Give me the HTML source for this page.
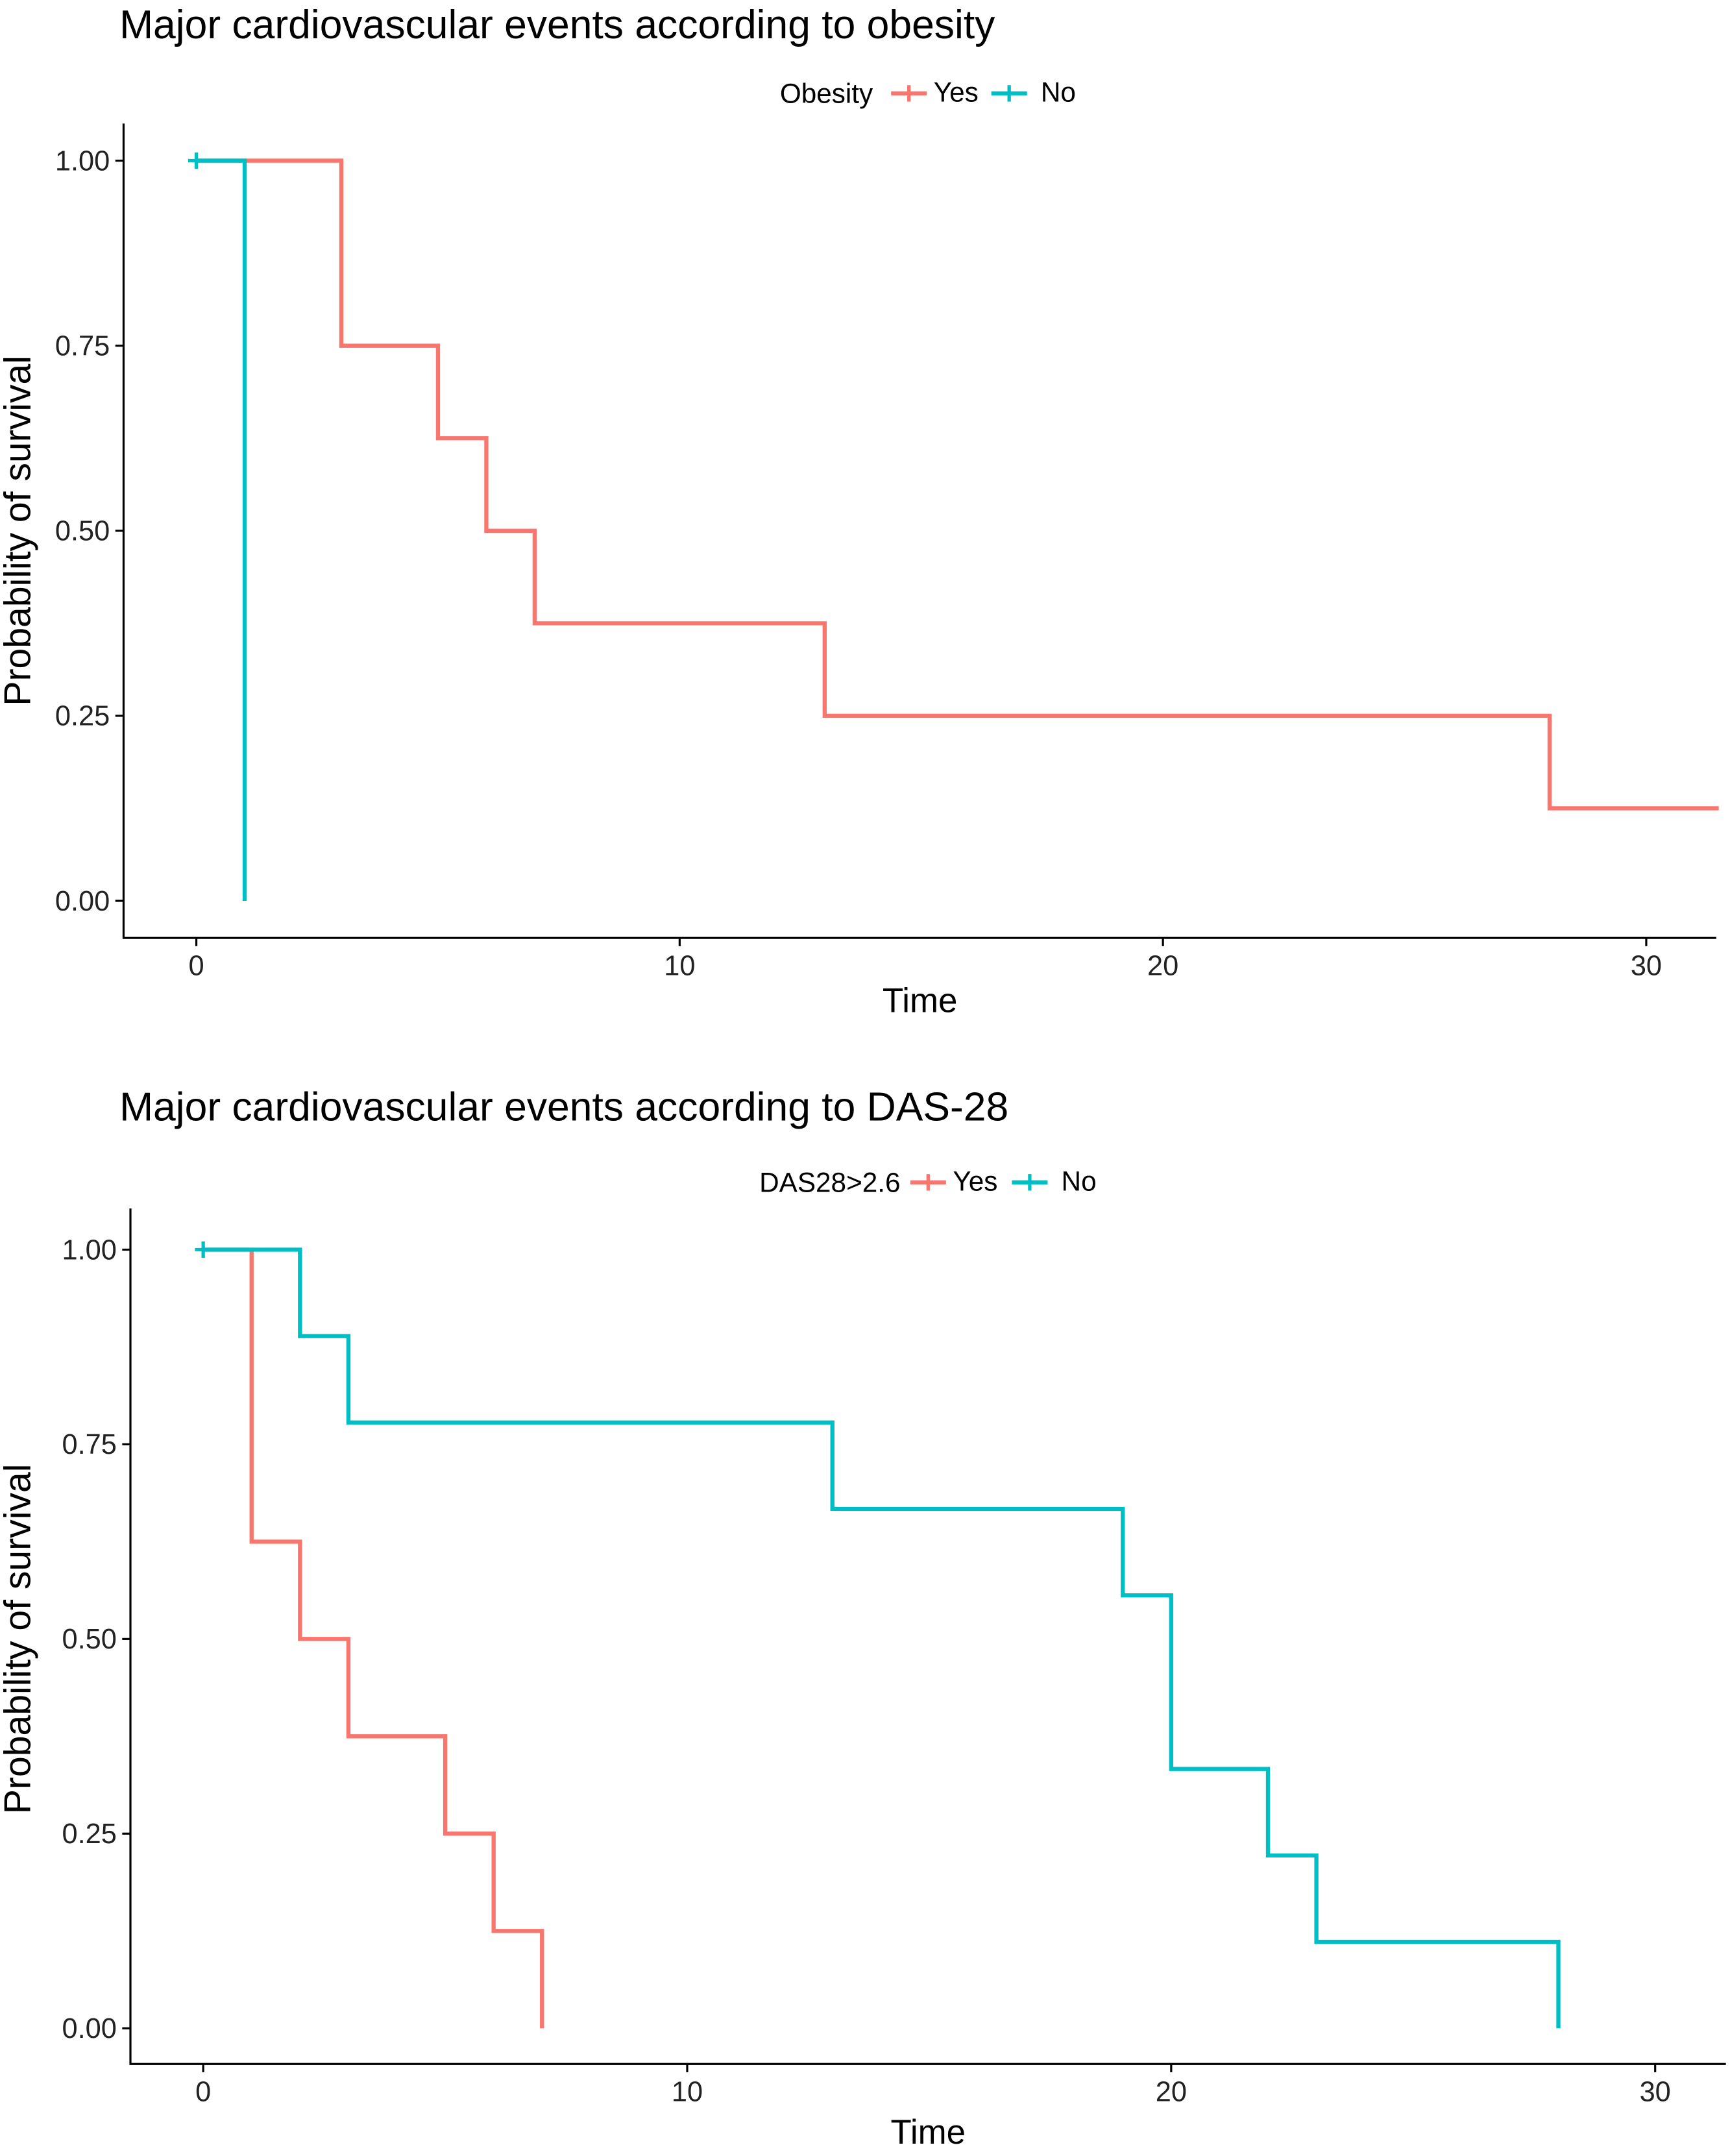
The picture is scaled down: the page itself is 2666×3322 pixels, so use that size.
<!DOCTYPE html>
<html><head><meta charset="utf-8">
<style>
html,body{margin:0;padding:0;background:#fff;}
svg{display:block;font-family:"Liberation Sans",sans-serif;}
</style></head>
<body>
<svg id="chart" width="2666" height="3322" viewBox="0 0 1260 1570" preserveAspectRatio="none" xmlns="http://www.w3.org/2000/svg"></svg>
<script>
// Top chart (obesity)
const topYesTimes = [0, 3, 5, 6, 7, 13, 28];
const topYesSurv  = [1, 0.75, 0.625, 0.5, 0.375, 0.25, 0.125];
const topYesEnd = 31.5;
const topNoTimes = [0, 1];
const topNoSurv  = [1, 0];
// Bottom chart (DAS-28)
const botYesTimes = [0, 1, 2, 3, 5, 6, 7];
const botYesSurv  = [1, 0.625, 0.5, 0.375, 0.25, 0.125, 0];
const botNoTimes = [0, 2, 3, 13, 19, 20, 22, 23, 28];
const botNoSurv  = [1, 0.889, 0.778, 0.667, 0.556, 0.333, 0.222, 0.111, 0];
const xTicks = [0, 10, 20, 30];
const yTicks = [0, 0.25, 0.5, 0.75, 1];
const yTickLabels = ["0.00", "0.25", "0.50", "0.75", "1.00"];

const NS = "http://www.w3.org/2000/svg";
const svg = document.getElementById("chart");
function mk(tag, attrs, parent) {
  const e = document.createElementNS(NS, tag);
  for (const k in attrs) e.setAttribute(k, attrs[k]);
  (parent || svg).appendChild(e);
  return e;
}
function text(str, attrs, parent) { const t = mk("text", attrs, parent); t.textContent = str; return t; }

function panel(cfg) {
  const g = mk("g", {});
  
  
  const xs = v => cfg.x0 + (cfg.x10 - cfg.x0) * v / 10;
  const ys = v => cfg.y0 + (cfg.y1 - cfg.y0) * v;
  const t = text(cfg.title, {x: 87, y: cfg.titleY, "font-size": 29.5, fill: "#000"}, g);
  
  
  const ax = mk("path", {d: `M${cfg.axL},${cfg.axTop} V${cfg.axB} H${cfg.axR}`, stroke: "#000", "stroke-width": 1.5, fill: "none"}, g);
  
  
  yTicks.forEach((v, i) => {
    const y = ys(v);
    mk("line", {x1: cfg.axL - 6, x2: cfg.axL, y1: y, y2: y, stroke: "#000", "stroke-width": 1.5}, g);
    const l = text(yTickLabels[i], {x: cfg.axL - 10, y: y + 7, "text-anchor": "end", "font-size": 20.5, fill: "#222"}, g);
    
    
  });
  xTicks.forEach(v => {
    const x = xs(v);
    mk("line", {x1: x, x2: x, y1: cfg.axB, y2: cfg.axB + 6, stroke: "#000", "stroke-width": 1.5}, g);
    const l = text(String(v), {x: x, y: cfg.axB + 27, "text-anchor": "middle", "font-size": 20.5, fill: "#222"}, g);
    
    
  });
  const xt = text("Time", {x: (cfg.axL + cfg.axR) / 2, y: cfg.axB + cfg.timeOff, "text-anchor": "middle", "font-size": 25, fill: "#000"}, g);
  
  
  const ymid = (ys(0) + ys(1)) / 2;
  const yt = text("Probability of survival", {x: 0, y: 0, transform: `translate(22,${ymid}) rotate(-90)`, "text-anchor": "middle", "font-size": 27, fill: "#000"}, g);
  
  
  const lg = mk("g", {}, g);
  
  
  text(cfg.legTitle, {x: cfg.legX, y: cfg.legY + 7, "font-size": 20, fill: "#000"}, lg);
  const entries = [["Yes", "#F8766D", cfg.legYesX, 31], ["No", "#00BFC4", cfg.legNoX, 36]];
  entries.forEach(([lab, col, lx, off]) => {
    const eg = mk("g", {}, lg);
    
    
    mk("line", {x1: lx, x2: lx + 26, y1: cfg.legY, y2: cfg.legY, stroke: col, "stroke-width": 3}, eg);
    mk("line", {x1: lx + 13, x2: lx + 13, y1: cfg.legY - 6, y2: cfg.legY + 6, stroke: col, "stroke-width": 2.5}, eg);
    text(lab, {x: lx + off, y: cfg.legY + 6, "font-size": 20, fill: "#000"}, eg);
  });
  cfg.series.forEach(s => {
    let d = `M${xs(s.times[0])},${ys(s.surv[0])}`;
    for (let i = 1; i < s.times.length; i++) {
      d += ` H${xs(s.times[i])} V${ys(s.surv[i])}`;
    }
    if (s.end !== undefined) d += ` H${xs(s.end)}`;
    const p = mk("path", {d: d, stroke: s.color, "stroke-width": 3, fill: "none"}, g);
    
    
    if (s.censor) {
      const cx = xs(s.times[0]), cy = ys(s.surv[0]);
      const c = mk("path", {d: `M${cx - 6},${cy} H${cx + 6} M${cx},${cy - 6} V${cy + 6}`, stroke: s.color, "stroke-width": 2.5}, g);
      
      
    }
  });
}

panel({name: "obesity-chart", title: "Major cardiovascular events according to obesity", titleY: 28,
  x0: 143, x10: 495, y0: 656, y1: 117, axL: 90, axR: 1250, axTop: 90, axB: 683, timeOff: 54,
  legTitle: "Obesity", legX: 568, legY: 68, legYesX: 649, legNoX: 722,
  series: [
    {name: "yes-curve", times: topYesTimes, surv: topYesSurv, end: topYesEnd, color: "#F8766D"},
    {name: "no-curve", times: topNoTimes, surv: topNoSurv, color: "#00BFC4", censor: true}
  ]});
panel({name: "das28-chart", title: "Major cardiovascular events according to DAS-28", titleY: 816,
  x0: 148, x10: 500.5, y0: 1477, y1: 910, axL: 95, axR: 1257, axTop: 880, axB: 1503, timeOff: 58,
  legTitle: "DAS28>2.6", legX: 553, legY: 861, legYesX: 663, legNoX: 737,
  series: [
    {name: "yes-curve", times: botYesTimes, surv: botYesSurv, color: "#F8766D"},
    {name: "no-curve", times: botNoTimes, surv: botNoSurv, color: "#00BFC4", censor: true}
  ]});
</script>
</body></html>
